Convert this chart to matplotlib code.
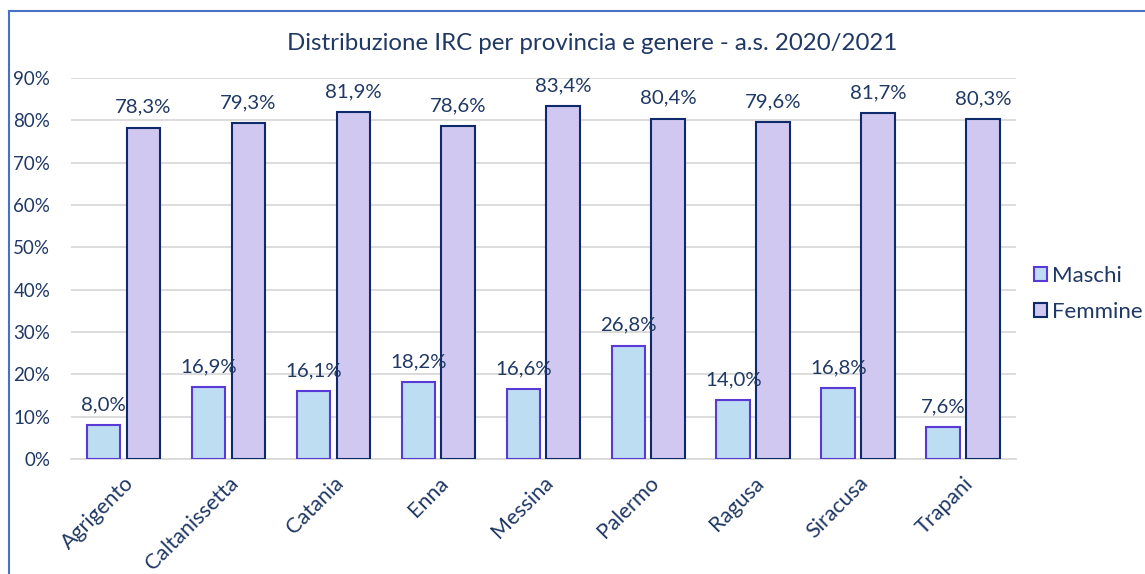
import matplotlib
matplotlib.use("Agg")
import matplotlib.pyplot as plt
import numpy as np
from matplotlib.lines import Line2D

provinces = ["Agrigento", "Caltanissetta", "Catania", "Enna", "Messina",
             "Palermo", "Ragusa", "Siracusa", "Trapani"]
maschi = [8.0, 16.9, 16.1, 18.2, 16.6, 26.8, 14.0, 16.8, 7.6]
femmine = [78.3, 79.3, 81.9, 78.6, 83.4, 80.4, 79.6, 81.7, 80.3]
yticks = [0, 10, 20, 30, 40, 50, 60, 70, 80, 90]

plt.rcParams['font.family'] = ['Lato', 'DejaVu Sans']
txt = '#1F3864'
fs_lab = 14.7
fs_tick = 13.5

fig = plt.figure(figsize=(11.45, 5.74), dpi=100)
ax = fig.add_axes([0.062, 0.2003, 0.825, 0.6637])

x = np.arange(len(provinces))
w = 0.32
off = 0.19
b1 = ax.bar(x - off, maschi, w, color='#BDDDF2', edgecolor='#5A3AD6', linewidth=1.5, label='Maschi', zorder=3)
b2 = ax.bar(x + off, femmine, w, color='#D0C8F0', edgecolor='#0E2A6B', linewidth=1.5, label='Femmine', zorder=3)

for xi, v in zip(x, maschi):
    ax.text(xi - off, v + 2.8, f"{v:.1f}".replace('.', ',') + '%', ha='center', va='bottom',
            fontsize=fs_lab, color=txt)
for xi, v in zip(x, femmine):
    ax.text(xi + off, v + 2.8, f"{v:.1f}".replace('.', ',') + '%', ha='center', va='bottom',
            fontsize=fs_lab, color=txt)

ax.set_xlim(-0.5, len(provinces) - 0.5)
ax.set_ylim(0, 90)
ax.set_yticks(yticks)
ax.set_yticklabels([f"{t}%" for t in yticks], fontsize=fs_tick, color=txt)
ax.set_xticks(x)
ax.set_xticklabels(provinces, rotation=45, ha='right', rotation_mode='anchor', fontsize=15.5, color=txt)
ax.tick_params(axis='both', length=0)
ax.tick_params(axis='y', pad=15)
ax.tick_params(axis='x', pad=10)
ax.yaxis.grid(True, color='#D9D9D9', linewidth=1.3, zorder=0)
ax.set_axisbelow(True)
for s in ['top', 'right', 'left']:
    ax.spines[s].set_visible(False)
ax.spines['bottom'].set_color('#D9D9D9')
ax.spines['bottom'].set_linewidth(1.3)

fig.text(0.517, 0.925, "Distribuzione IRC per provincia e genere - a.s. 2020/2021",
         ha='center', va='center', fontsize=17.3, color=txt)

leg = fig.legend(handles=[b1, b2], loc='center left', bbox_to_anchor=(0.893, 0.488),
                 frameon=False, fontsize=16, handlelength=0.6, handleheight=0.6,
                 handletextpad=0.25, labelspacing=0.7, borderpad=0)
for t in leg.get_texts():
    t.set_color(txt)

# chart frame (left and top edges visible)
fig.add_artist(Line2D([9/1145, 9/1145], [0, 1 - 11/574], transform=fig.transFigure, color='#4472C4', linewidth=1.5))
fig.add_artist(Line2D([9/1145, 1], [1 - 11/574, 1 - 11/574], transform=fig.transFigure, color='#4472C4', linewidth=1.5))

fig.savefig('out.png', dpi=100)
